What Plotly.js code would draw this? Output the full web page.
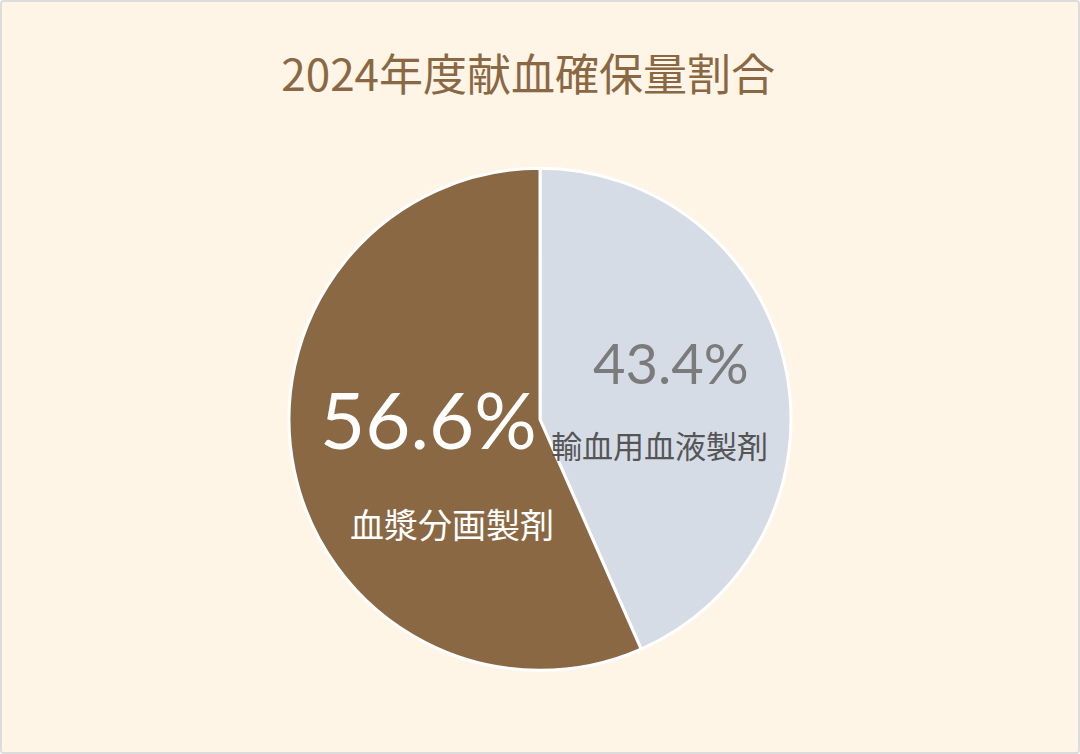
<!DOCTYPE html>
<html>
<head>
<meta charset="utf-8">
<script src="https://cdn.plot.ly/plotly-3.0.1.min.js"></script>
<style>
  html, body { margin: 0; padding: 0; background: #fff; }
  #frame {
    width: 1080px; height: 754px; box-sizing: border-box;
    border: 2px solid #dcdcdc; border-radius: 4px; overflow: hidden;
    background: #fef5e7;
  }
  #chart { width: 1076px; height: 750px; }
</style>
</head>
<body>
<div id="frame"><div id="chart"></div></div>
<script>
// data
const categories = ['輸血用血液製剤', '血漿分画製剤'];
const shares = [43.4, 56.6];
const percentLabels = ['43.4%', '56.6%'];
const chartTitle = '2024年度献血確保量割合';

const sliceColors = ['#d6dce6', '#8b6844'];
const pctColors = ['#7b7b7b', '#ffffff'];
const nameColors = ['#555555', '#ffffff'];
const pctSizes = [56, 78];
const nameSizes = [31, 34];

// label anchors (paper units) for each slice: [pct x, pct y, name x, name y]
const labelPos = [
  [0.622, 0.520, 0.6115, 0.410],
  [0.396, 0.444, 0.418, 0.270],
];

const CJK = "'Noto Sans CJK JP', 'Noto Sans', sans-serif";
const NUM = "'Lato', 'Noto Sans', sans-serif";

const trace = {
  type: 'pie',
  labels: categories,
  values: shares,
  sort: false,
  direction: 'clockwise',
  rotation: 0,
  textinfo: 'none',
  hoverinfo: 'label+percent',
  marker: { colors: sliceColors, line: { color: '#ffffff', width: 3 } },
  domain: { x: [0.2658, 0.7342], y: [0.1089, 0.7782] },
  showlegend: false,
};

const annotations = [];
categories.forEach((c, i) => {
  annotations.push({
    xref: 'paper', yref: 'paper',
    x: labelPos[i][0], y: labelPos[i][1],
    text: percentLabels[i], showarrow: false,
    font: { family: NUM, size: pctSizes[i], color: pctColors[i] },
  });
  annotations.push({
    xref: 'paper', yref: 'paper',
    x: labelPos[i][2], y: labelPos[i][3],
    text: c, showarrow: false,
    font: { family: CJK, size: nameSizes[i], color: nameColors[i] },
  });
});

const layout = {
  width: 1076, height: 750,
  margin: { t: 0, r: 0, b: 0, l: 0 },
  paper_bgcolor: '#fef5e7',
  plot_bgcolor: '#fef5e7',
  title: {
    text: chartTitle,
    x: 0.489, xanchor: 'center',
    y: 0.902, yanchor: 'middle',
    font: { family: CJK, size: 44, color: '#8b6844' },
  },
  annotations: annotations,
};

Plotly.newPlot('chart', [trace], layout, { displayModeBar: false, staticPlot: true });
</script>
</body>
</html>
